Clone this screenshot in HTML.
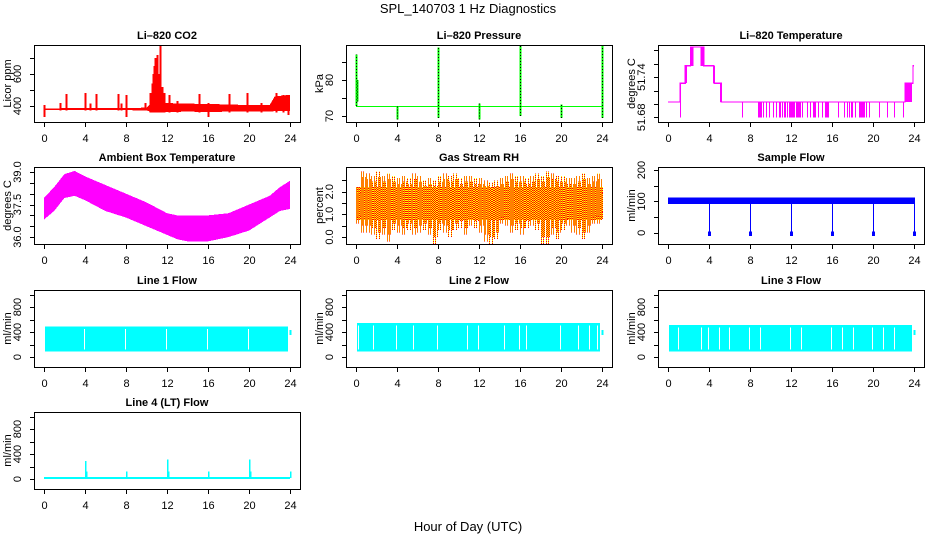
<!DOCTYPE html>
<html><head><meta charset="utf-8">
<style>
html,body{margin:0;padding:0;background:#fff;}
svg{display:block;font-family:"Liberation Sans",sans-serif;}
.tk{font-size:11px;}
.tt{font-size:11px;font-weight:bold;}
</style></head>
<body>
<svg id="chart" xmlns="http://www.w3.org/2000/svg" width="936" height="540" viewBox="0 0 936 540">
<defs>
<pattern id="rhpat" width="2" height="2" patternUnits="userSpaceOnUse">
<rect width="2" height="2" fill="#ffff00"/><rect width="1" height="1" fill="#ff0000"/><rect x="1" y="1" width="1" height="1" fill="#ff0000"/>
</pattern>
</defs>
<text x="468" y="13" text-anchor="middle" font-size="13">SPL_140703  1 Hz Diagnostics</text>
<text x="468" y="531" text-anchor="middle" font-size="13">Hour of Day (UTC)</text>
</svg>
<script>
// ---- data ----
const xTicks=[0,4,8,12,16,20,24];
// CO2
const co2EnvHours=[0,2,4,6,8,10,10.5,12,14,16,18,20,22,22.5,24];
const co2EnvHi=[385,386,386,386,386,390,420,418,415,412,410,405,405,460,470];
const co2EnvLo=[374,374,374,374,374,372,362,362,365,362,365,365,365,368,370];
const co2SpikeHours=[0,1.6,2.2,4.0,4.5,5.1,7.2,7.5,8.0,9.9,10.3,10.5,10.6,10.7,10.8,10.9,11.0,11.1,11.2,11.3,11.5,11.7,12.2,13.0,15.1,16.0,18.0,19.8,21.2,22.6,23.3,23.8];
const co2SpikeHi=[405,420,475,480,415,475,475,415,470,420,480,540,600,650,700,620,720,560,600,790,520,480,470,430,475,420,475,480,420,480,470,455];
const co2SpikeLo=[330,372,372,372,372,372,372,372,330,372,360,360,360,360,360,360,360,360,360,360,360,360,360,360,360,330,360,360,360,360,360,345];
// Pressure
const presBase=72.8;
const presSpikeHours=[0,0.1,4,8,12,16,20,24];
const presSpikeHi=[87,80,72.8,89,73.5,89.6,73.2,89.6];
const presSpikeLo=[72.8,74,69,69.5,69,70,69.5,69.5];
// Li-820 temperature (step series)
const tempHours=[0,1.2,1.7,2.2,3.5,4.5,5.2,23.1,23.9,24];
const tempVals=[51.703,51.731,51.757,51.785,51.757,51.731,51.703,51.731,51.757];
const tempOscStart=[1.15,1.7,2.2,3.2,4.4,5.1,23.1];
const tempOscEnd=[1.3,1.85,2.5,3.5,4.6,5.3,23.8];
const tempOscLo=[51.703,51.731,51.757,51.757,51.731,51.703,51.703];
const tempOscHi=[51.731,51.757,51.785,51.785,51.757,51.731,51.731];
const tempDipHours=[1.2,7.2,8.8,8.9,9.0,9.1,9.3,9.6,9.9,10.2,10.5,10.8,10.9,11.1,11.3,11.4,11.6,11.8,11.9,12.0,12.1,12.2,12.3,12.5,12.6,12.7,12.8,12.9,13.1,13.6,13.9,14.1,14.2,14.3,14.6,15.0,15.3,15.4,15.5,15.6,16.6,17.2,17.5,17.7,17.8,17.9,18.2,18.6,18.7,18.8,18.9,19.0,19.1,19.3,19.6,20.6,21.4,22.0,22.9];
// Ambient box temperature envelope
const ambHours=[0,1,2,3,4,6,8,10,12,13,14,16,18,20,22,23,24];
const ambHi=[37.8,38.3,38.9,39.05,38.8,38.4,38.0,37.6,37.1,37.0,37.0,37.0,37.1,37.5,37.9,38.3,38.6];
const ambLo=[36.8,37.2,37.8,37.9,37.7,37.2,36.9,36.5,36.1,35.9,35.8,35.8,36.0,36.3,36.9,37.2,37.3];
// Gas stream RH (half-hour envelopes)
const rhCoreLo=0.75, rhCoreHi=2.2;
const rhHi=[2.2,2.9,2.8,2.7,2.9,2.7,2.8,2.7,2.6,2.7,2.6,2.8,2.7,2.5,2.6,2.5,2.7,2.8,2.7,2.8,2.6,2.7,2.7,2.6,2.6,2.5,2.4,2.5,2.6,2.7,2.8,2.7,2.7,2.6,2.7,2.8,2.7,2.9,2.8,2.7,2.7,2.6,2.6,2.7,2.8,2.6,2.7,2.8,2.2];
const rhLo=[0.6,0.2,0.2,0.1,-0.1,0.1,-0.2,0.3,0.2,0.1,0.3,0.1,0.2,0.3,0.1,-0.3,0.3,0.2,0.0,0.3,0.4,0.1,0.5,0.4,0.2,-0.2,-0.3,-0.1,0.6,0.5,0.2,0.3,0.1,0.4,0.5,0.3,-0.3,-0.3,0.1,-0.1,0.3,0.5,0.2,0.1,-0.1,0.2,0.6,0.6,0.8];
// Sample flow
const sfBandLo=92, sfBandHi=113;
const sfDipHours=[4,8,12,16,20,24];
const sfDipVals=[-10,-10,-10,-10,-10,-10];
// Line flows
const l1Lo=90, l1Hi=485, l1Gaps=[3.9,7.9,11.9,15.9,19.9,23.8];
const l2Lo=90, l2Hi=544, l2Gaps=[0.2,1.7,3.9,5.6,7.9,10.8,11.9,14.4,15.9,16.6,19.9,21.6,22.7,23.5];
const l3Lo=90, l3Hi=510, l3Gaps=[1.0,3.2,3.9,5.0,6.0,7.9,9.0,11.9,13.0,15.9,17.0,18.0,19.9,21.0,22.0];
const l4Base=15;
const l4SpikeHours=[4,4.1,8,12,12.1,16,20,20.1,24];
const l4SpikeVals=[290,120,120,310,120,120,310,120,120];

// ---- drawing ----
const NS='http://www.w3.org/2000/svg';
const svg=document.getElementById('chart');
function mk(tag,attrs,parent){const e=document.createElementNS(NS,tag);for(const k in attrs)e.setAttribute(k,attrs[k]);parent.appendChild(e);return e;}
let clipN=0;
function panel(col,row,ymin,ymax,yticks,ylabels,title,ytitle,key){
  const L=[34,346,658][col],T=[45,167,290,412][row],W=266,H=77;
  const xs=h=>L+(h+0.96)/25.92*W;
  const ys=v=>T+H-(v-ymin)/(ymax-ymin)*H;
  const g=mk('g',{},svg);
  
  
  const cid='clip'+(clipN++);
  const cp=mk('clipPath',{id:cid},g);
  mk('rect',{x:L,y:T,width:W,height:H},cp);
  const plot=mk('g',{'clip-path':'url(#'+cid+')','shape-rendering':'crispEdges'},g);
  
  
  const box=mk('rect',{x:L+0.5,y:T+0.5,width:W,height:H,fill:'none',stroke:'#000','stroke-width':1},g);
  
  
  const t=mk('text',{x:L+W/2,y:T-6,'text-anchor':'middle',class:'tt'},g);
  t.textContent=title;
  
  
  const xa=mk('g',{},g);
  
  
  mk('line',{x1:Math.round(xs(0))+0.5,x2:Math.round(xs(24))+0.5,y1:T+H+0.5,y2:T+H+0.5,stroke:'#000'},xa);
  xTicks.forEach(v=>{
    const x=Math.round(xs(v))+0.5;
    mk('line',{x1:x,x2:x,y1:T+H,y2:T+H+5,stroke:'#000'},xa);
    const tl=mk('text',{x:x,y:T+H+20,'text-anchor':'middle',class:'tk'},xa);
    tl.textContent=v;
    
    
  });
  const ya=mk('g',{},g);
  
  
  mk('line',{x1:L+0.5,x2:L+0.5,y1:ys(yticks[0]),y2:ys(yticks[yticks.length-1]),stroke:'#000'},ya);
  yticks.forEach(v=>{
    const y=Math.round(ys(v))+0.5;
    mk('line',{x1:L-4,x2:L,y1:y,y2:y,stroke:'#000'},ya);
  });
  ylabels.forEach(v=>{
    const y=ys(v),x=L-13;
    const tl=mk('text',{x:x,y:y,'text-anchor':'middle',class:'tk',transform:'rotate(-90 '+x+' '+y+')'},ya);
    tl.textContent=key==='rh'||key==='amb'?v.toFixed(1):(key==='temp'?v.toFixed(2):v);
    
    
  });
  const yt=mk('text',{x:L-23,y:T+H/2,'text-anchor':'middle',class:'tk',transform:'rotate(-90 '+(L-23)+' '+(T+H/2)+')'},g);
  yt.textContent=ytitle;
  
  
  return {plot,xs,ys};
}
function vline(p,h,v1,v2,color,name,w){
  const x=Math.round(p.xs(h))+0.5;
  const l=mk('line',{x1:x,x2:x,y1:p.ys(v1),y2:p.ys(v2),stroke:color,'stroke-width':w||1},p.plot);
  
  
  return l;
}
function band(p,hrs,hi,lo,fill,name){
  let pts=hrs.map((h,i)=>p.xs(h)+','+p.ys(hi[i]));
  for(let i=hrs.length-1;i>=0;i--)pts.push(p.xs(hrs[i])+','+p.ys(lo[i]));
  const pg=mk('polygon',{points:pts.join(' '),fill:fill},p.plot);
  
  
}

// CO2
let p=panel(0,0,300,781,[400,500,600,700],[400,600],'Li–820 CO2','Licor ppm','co2');
band(p,co2EnvHours,co2EnvHi,co2EnvLo,'#ff0000','co2-band');
co2SpikeHours.forEach((h,i)=>vline(p,h,co2SpikeLo[i],co2SpikeHi[i],'#ff0000','co2-spike',2));

// Pressure
p=panel(1,0,68.33,89.7,[70,75,80,85],[70,80],'Li–820 Pressure','kPa','pres');
let bl=mk('line',{x1:p.xs(0),x2:p.xs(24),y1:Math.round(p.ys(presBase))+0.5,y2:Math.round(p.ys(presBase))+0.5,stroke:'#00ff00'},p.plot);


presSpikeHours.forEach((h,i)=>{
  vline(p,h,presSpikeLo[i],presSpikeHi[i],'#00ff00','pressure-spike',2);
  const d=vline(p,h,presSpikeLo[i],presSpikeHi[i],'#000','pressure-spike-dots',1);
  d.setAttribute('stroke-dasharray','1 2');
});

// Li-820 temperature
p=panel(2,0,51.673,51.788,[51.68,51.70,51.72,51.74,51.76,51.78],[51.68,51.74],'Li–820 Temperature','degrees C','temp');
let tp=[];
tempVals.forEach((v,i)=>{tp.push(p.xs(tempHours[i])+','+p.ys(v));tp.push(p.xs(tempHours[i+1])+','+p.ys(v));});
let tl=mk('polyline',{points:tp.join(' '),fill:'none',stroke:'#ff00ff','stroke-width':1.2},p.plot);


tempOscStart.forEach((s,i)=>{
  const r=mk('rect',{x:p.xs(s),y:p.ys(tempOscHi[i]),width:p.xs(tempOscEnd[i])-p.xs(s),height:p.ys(tempOscLo[i])-p.ys(tempOscHi[i]),fill:'#ff00ff'},p.plot);
  
  
});
tempDipHours.forEach(h=>vline(p,h,51.68,51.703,'#ff00ff','temp-dip',1));

// Ambient
p=panel(0,1,35.68,39.23,[36,36.5,37,37.5,38,38.5,39],[36.0,37.5,39.0],'Ambient Box Temperature','degrees C','amb');
band(p,ambHours,ambHi,ambLo,'#ff00ff','ambient-band');

// RH
p=panel(1,1,-0.31,3.09,[0,0.5,1,1.5,2,2.5],[0.0,1.0,2.0],'Gas Stream RH','percent','rh');
let cr=mk('rect',{x:p.xs(0),y:p.ys(rhCoreHi),width:p.xs(24)-p.xs(0),height:p.ys(rhCoreLo)-p.ys(rhCoreHi),fill:'url(#rhpat)'},p.plot);


rhHi.forEach((v,i)=>{
  const h=i*0.5;
  for(let k=0;k<4;k++){
    const hh=Math.min(24,h+k*0.12);
    vline(p,hh,k%2?rhLo[i]+0.3:rhLo[i],k%2?v-0.25:v,'#ffff00','rh-spike',1);
    const b=vline(p,hh,k%2?rhLo[i]+0.3:rhLo[i],k%2?v-0.25:v,'#ff0000','rh-spike-dots',1);
    b.setAttribute('stroke-dasharray','1 1');
  }
});

// Sample flow
p=panel(2,1,-35.5,209.7,[0,50,100,150,200],[0,100,200],'Sample Flow','ml/min','sf');
let sb=mk('rect',{x:p.xs(0),y:p.ys(sfBandHi),width:p.xs(24)-p.xs(0),height:p.ys(sfBandLo)-p.ys(sfBandHi),fill:'#0000ff'},p.plot);


sfDipHours.forEach((h,i)=>{vline(p,h,sfDipVals[i],sfBandHi,'#0000ff','sample-flow-dip',1);vline(p,h,sfDipVals[i],sfDipVals[i]+15,'#0000ff','sample-flow-dip-base',3);});

// Line flows
function lineFlow(col,row,lo,hi,gaps,title,key){
  const q=panel(col,row,-160,1072,[0,200,400,600,800,1000],[0,400,800],title,'ml/min',key);
  const r=mk('rect',{x:q.xs(0.1),y:q.ys(hi),width:q.xs(23.8)-q.xs(0.1),height:q.ys(lo)-q.ys(hi),fill:'#00ffff'},q.plot);
  
  
  vline(q,24,350,430,'#00ffff',key+'-end',2);
  gaps.forEach(h=>vline(q,h,lo+30,hi-40,'#ffffff',key+'-gap',1));
  return q;
}
lineFlow(0,2,l1Lo,l1Hi,l1Gaps,'Line 1 Flow','line1');
lineFlow(1,2,l2Lo,l2Hi,l2Gaps,'Line 2 Flow','line2');
lineFlow(2,2,l3Lo,l3Hi,l3Gaps,'Line 3 Flow','line3');
p=panel(0,3,-160,1072,[0,200,400,600,800,1000],[0,400,800],'Line 4 (LT) Flow','ml/min','line4');
let b4=mk('rect',{x:p.xs(0),y:p.ys(l4Base+15),width:p.xs(24)-p.xs(0),height:p.ys(l4Base-15)-p.ys(l4Base+15),fill:'#00ffff'},p.plot);


l4SpikeHours.forEach((h,i)=>vline(p,h,l4Base,l4SpikeVals[i],'#00ffff','line4-spike',1.5));
</script>
</body></html>
